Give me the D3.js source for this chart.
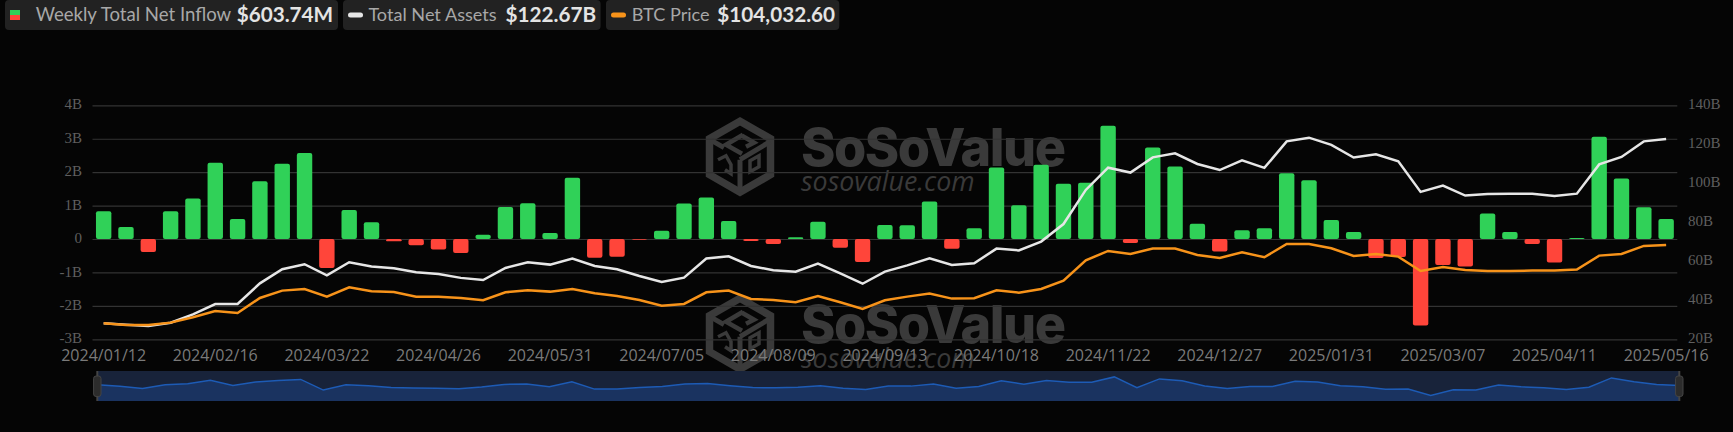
<!DOCTYPE html>
<html><head><meta charset="utf-8">
<script src="https://d3js.org/d3.v7.min.js"></script>
<style>html,body{margin:0;padding:0;background:#050505;overflow:hidden}svg{display:block}</style>
</head><body><svg id="c" width="1733" height="432"></svg>
<script>
const dates = ["2024/01/12","2024/01/19","2024/01/26","2024/02/02","2024/02/09","2024/02/16","2024/02/23","2024/03/01","2024/03/08","2024/03/15","2024/03/22","2024/03/29","2024/04/05","2024/04/12","2024/04/19","2024/04/26","2024/05/03","2024/05/10","2024/05/17","2024/05/24","2024/05/31","2024/06/07","2024/06/14","2024/06/21","2024/06/28","2024/07/05","2024/07/12","2024/07/19","2024/07/26","2024/08/02","2024/08/09","2024/08/16","2024/08/23","2024/08/30","2024/09/06","2024/09/13","2024/09/20","2024/09/27","2024/10/04","2024/10/11","2024/10/18","2024/10/25","2024/11/01","2024/11/08","2024/11/15","2024/11/22","2024/11/29","2024/12/06","2024/12/13","2024/12/20","2024/12/27","2025/01/03","2025/01/10","2025/01/17","2025/01/24","2025/01/31","2025/02/07","2025/02/14","2025/02/21","2025/02/28","2025/03/07","2025/03/14","2025/03/21","2025/03/28","2025/04/04","2025/04/11","2025/04/18","2025/04/25","2025/05/02","2025/05/09","2025/05/16"];
const xTickLabels = ["2024/01/12","2024/02/16","2024/03/22","2024/04/26","2024/05/31","2024/07/05","2024/08/09","2024/09/13","2024/10/18","2024/11/22","2024/12/27","2025/01/31","2025/03/07","2025/04/11","2025/05/16"];
const netInflow = [0.83,0.36,-0.39,0.83,1.21,2.28,0.6,1.73,2.25,2.57,-0.87,0.87,0.5,-0.07,-0.19,-0.31,-0.42,0.13,0.96,1.07,0.18,1.83,-0.56,-0.53,-0.02,0.25,1.06,1.24,0.54,-0.06,-0.15,0.05,0.52,-0.26,-0.69,0.42,0.41,1.12,-0.29,0.32,2.14,1.01,2.22,1.65,1.68,3.39,-0.12,2.74,2.17,0.46,-0.37,0.26,0.32,1.97,1.76,0.57,0.21,-0.57,-0.54,-2.59,-0.78,-0.82,0.76,0.21,-0.15,-0.70,0.03,3.06,1.81,0.95,0.60];
const netAssets = [28.2,27.4,26.8,28.5,32.8,38.1,38.1,48.7,55.9,58.5,52.8,59.5,57.3,56.4,54.4,53.5,51.5,50.4,56.6,59.5,58.3,61.4,57.6,55.9,52.5,49.4,51.6,61.4,62.6,57.6,55.4,54.7,58.8,53.8,48.5,54.7,57.9,61.5,58.1,59.0,66.5,65.6,70.1,79.1,96.6,108.0,105.5,113.3,115.4,109.9,106.8,111.8,107.9,121.5,123.4,119.7,113.2,114.9,111.3,95.6,98.8,93.7,94.5,94.7,94.7,93.5,94.7,109.7,113.5,121.5,122.67];
const btcPrice = [42560,41250,41250,43080,47270,52240,50670,62440,68190,69500,63480,70810,67670,67150,63480,63480,62440,60610,66890,68460,67410,69500,66100,64010,60870,56420,57730,66890,68190,61650,60870,59040,64010,59040,53810,60610,63480,65840,61920,62180,68460,66620,69500,76040,92000,99320,96970,101160,101160,96190,93830,98280,94350,104820,104820,101420,95400,96970,94880,83630,86770,84410,83630,83630,83890,83890,84680,95660,96970,103250,104032.6];
const leftTicks = [-3,-2,-1,0,1,2,3,4];
const rightTicks = [20,40,60,80,100,120,140];
const legendLabels = ["Weekly Total Net Inflow","Total Net Assets","BTC Price"];
const legendValues = ["$603.74M","$122.67B","$104,032.60"];

const svg = d3.select("#c");
const plotL = 92.5, plotR = 1677.3, plotT = 105.3, plotB = 339.3;
const x = d3.scaleBand().domain(dates).range([plotL, plotR]).paddingInner(0.31).paddingOuter(0.155);
const yL = d3.scaleLinear().domain([-3,4]).range([plotB, plotT]);
const yR = d3.scaleLinear().domain([20,140]).range([plotB, plotT]);
const yB = d3.scaleLinear().domain([30000,213600]).range([plotB, plotT]);
const cx = d => x(d) + x.bandwidth()/2;

// watermark (below everything)
function watermark(dy){
  const g = svg.append("g").attr("transform",`translate(0,${dy})`).attr("fill","#3a3a3a").attr("stroke","none");
  const lg = g.append("g").attr("transform","translate(740,156.7)").attr("fill","none").attr("stroke","#3a3a3a").attr("stroke-linejoin","miter");
  lg.append("path").attr("stroke-width",7.5).attr("d","M0,-35.5 L30.5,-18 L30.5,18 L0,35.5 L-30.5,18 L-30.5,-18 Z");
  lg.append("path").attr("stroke-width",5).attr("d","M-30,-17 L-16,-9 M0,3 L0,36 M0,3 L30,-15");
  lg.append("path").attr("stroke-width",4.5).attr("d","M3,-22 L-14,-12 L2,-3 M2,-21 L14,-14 L6,-10");
  lg.append("path").attr("stroke-width",3.5).attr("d","M-22,3 L-14,-1 L-9,8 L-9,17 L-15,13");
  lg.append("path").attr("stroke-width",3.5).attr("d","M10,4 L19,-1 L19,10 L10,15 Z");
  g.append("text").attr("x",801).attr("y",165.7).attr("font-family","Inter, sans-serif").attr("font-weight",800).attr("font-size",52.2).attr("letter-spacing",-1.5).text("SoSoValue");
  g.append("text").attr("x",801).attr("y",190.7).attr("font-family","'Open Sans', sans-serif").attr("font-style","italic").attr("font-size",26.8).attr("fill","#3a3a3a").text("sosovalue.com");
}
watermark(0); watermark(177);

// left axis with grid
const axL = svg.append("g").attr("transform",`translate(${plotL},0)`)
  .call(d3.axisLeft(yL).tickValues(leftTicks).tickSize(-(plotR-plotL)).tickPadding(10.5).tickFormat(d=> d===0 ? "0" : (d<0?"-":"")+Math.abs(d)+"B"));
axL.select(".domain").remove();
axL.selectAll("line").attr("stroke","#333").attr("stroke-width",1.2);
axL.selectAll("text").attr("font-family","'Liberation Serif', serif").attr("font-size",15).attr("fill","#5f5f5f").attr("dy","0.24em");

const axR = svg.append("g").attr("transform",`translate(${plotR},0)`)
  .call(d3.axisRight(yR).tickValues(rightTicks).tickSize(0).tickPadding(10.7).tickFormat(d=>d+"B"));
axR.select(".domain").remove();
axR.selectAll("text").attr("font-family","'Liberation Serif', serif").attr("font-size",15).attr("fill","#5f5f5f").attr("dy","0.24em");

const axX = svg.append("g").attr("transform",`translate(0,${plotB})`)
  .call(d3.axisBottom(x).tickValues(xTickLabels).tickSize(0).tickPadding(10));
axX.select(".domain").remove();
axX.selectAll("text").attr("font-family","'Open Sans', sans-serif").attr("font-size",16).attr("fill","#7a7a7a");

// bars
svg.append("g").selectAll("rect").data(netInflow).join("rect")
  .attr("x",(d,i)=>x(dates[i])).attr("width",x.bandwidth())
  .attr("y",d=>d>=0?yL(d):yL(0)).attr("height",d=>Math.abs(yL(d)-yL(0)))
  .attr("rx",2).attr("fill",d=>d>=0?"#30d158":"#ff453a");

// lines
const lineFn = s => d3.line().x((d,i)=>cx(dates[i])).y(d=>s(d));
svg.append("path").datum(netAssets).attr("d",lineFn(yR)).attr("fill","none").attr("stroke","#e6e6e6").attr("stroke-width",2.5);
svg.append("path").datum(btcPrice).attr("d",lineFn(yB)).attr("fill","none").attr("stroke","#f7931a").attr("stroke-width",2.5);

// slider
const sL=97.3,sR=1679.3,sT=371,sB=401;
const sx = d3.scalePoint().domain(dates).range([sL,sR]);
const sy = d3.scaleLinear().domain([-4.4,5.3]).range([sB,sT]);
const sg = svg.append("g");
sg.append("rect").attr("x",sL).attr("y",sT).attr("width",sR-sL).attr("height",sB-sT).attr("fill","#18233a");
sg.append("path").datum(netInflow).attr("fill","#1a3360")
  .attr("d",d3.area().x((d,i)=>sx(dates[i])).y0(sB).y1(d=>sy(d)));
sg.append("path").datum(netInflow).attr("fill","none").attr("stroke","#1d5bb5").attr("stroke-width",1.5)
  .attr("d",d3.line().x((d,i)=>sx(dates[i])).y(d=>sy(d)));
[sL,sR].forEach(px=>{
  sg.append("line").attr("x1",px).attr("x2",px).attr("y1",sT).attr("y2",sB).attr("stroke","#444").attr("stroke-width",2);
  sg.append("rect").attr("x",px-3.7).attr("y",376).attr("width",7.4).attr("height",20.5).attr("rx",2.5).attr("fill","#2c2c2c").attr("stroke","#444").attr("stroke-width",1);
});

// legend pills
const pills=[{x:5,w:333,tx:35.7,vx:236.7,fs:18.6},{x:343,w:257.6,tx:368.4,vx:505.6,fs:18.1},{x:606,w:233.3,tx:631.7,vx:717.3,fs:18.1}];
const lg = svg.append("g");
pills.forEach((p,i)=>{
  lg.append("rect").attr("x",p.x).attr("y",0).attr("width",p.w).attr("height",30).attr("rx",4).attr("fill","#222");
  lg.append("text").attr("x",p.tx).attr("y",21).attr("font-family","Lato, sans-serif").attr("font-size",p.fs).attr("fill","#a8a8a8").text(legendLabels[i]);
  lg.append("text").attr("x",p.vx).attr("y",21.5).attr("font-family","Lato, sans-serif").attr("font-weight",700).attr("font-size",20.7).attr("fill","#e4e4e4").text(legendValues[i]);
});
lg.append("rect").attr("x",10).attr("y",10).attr("width",10).attr("height",5).attr("fill","#30d158");
lg.append("rect").attr("x",10).attr("y",15).attr("width",10).attr("height",5).attr("fill","#ff453a");
lg.append("rect").attr("x",348).attr("y",12.5).attr("width",15).attr("height",5).attr("rx",2.5).attr("fill","#e6e6e6");
lg.append("rect").attr("x",611).attr("y",12.5).attr("width",15).attr("height",5).attr("rx",2.5).attr("fill","#f7931a");
</script></body></html>
